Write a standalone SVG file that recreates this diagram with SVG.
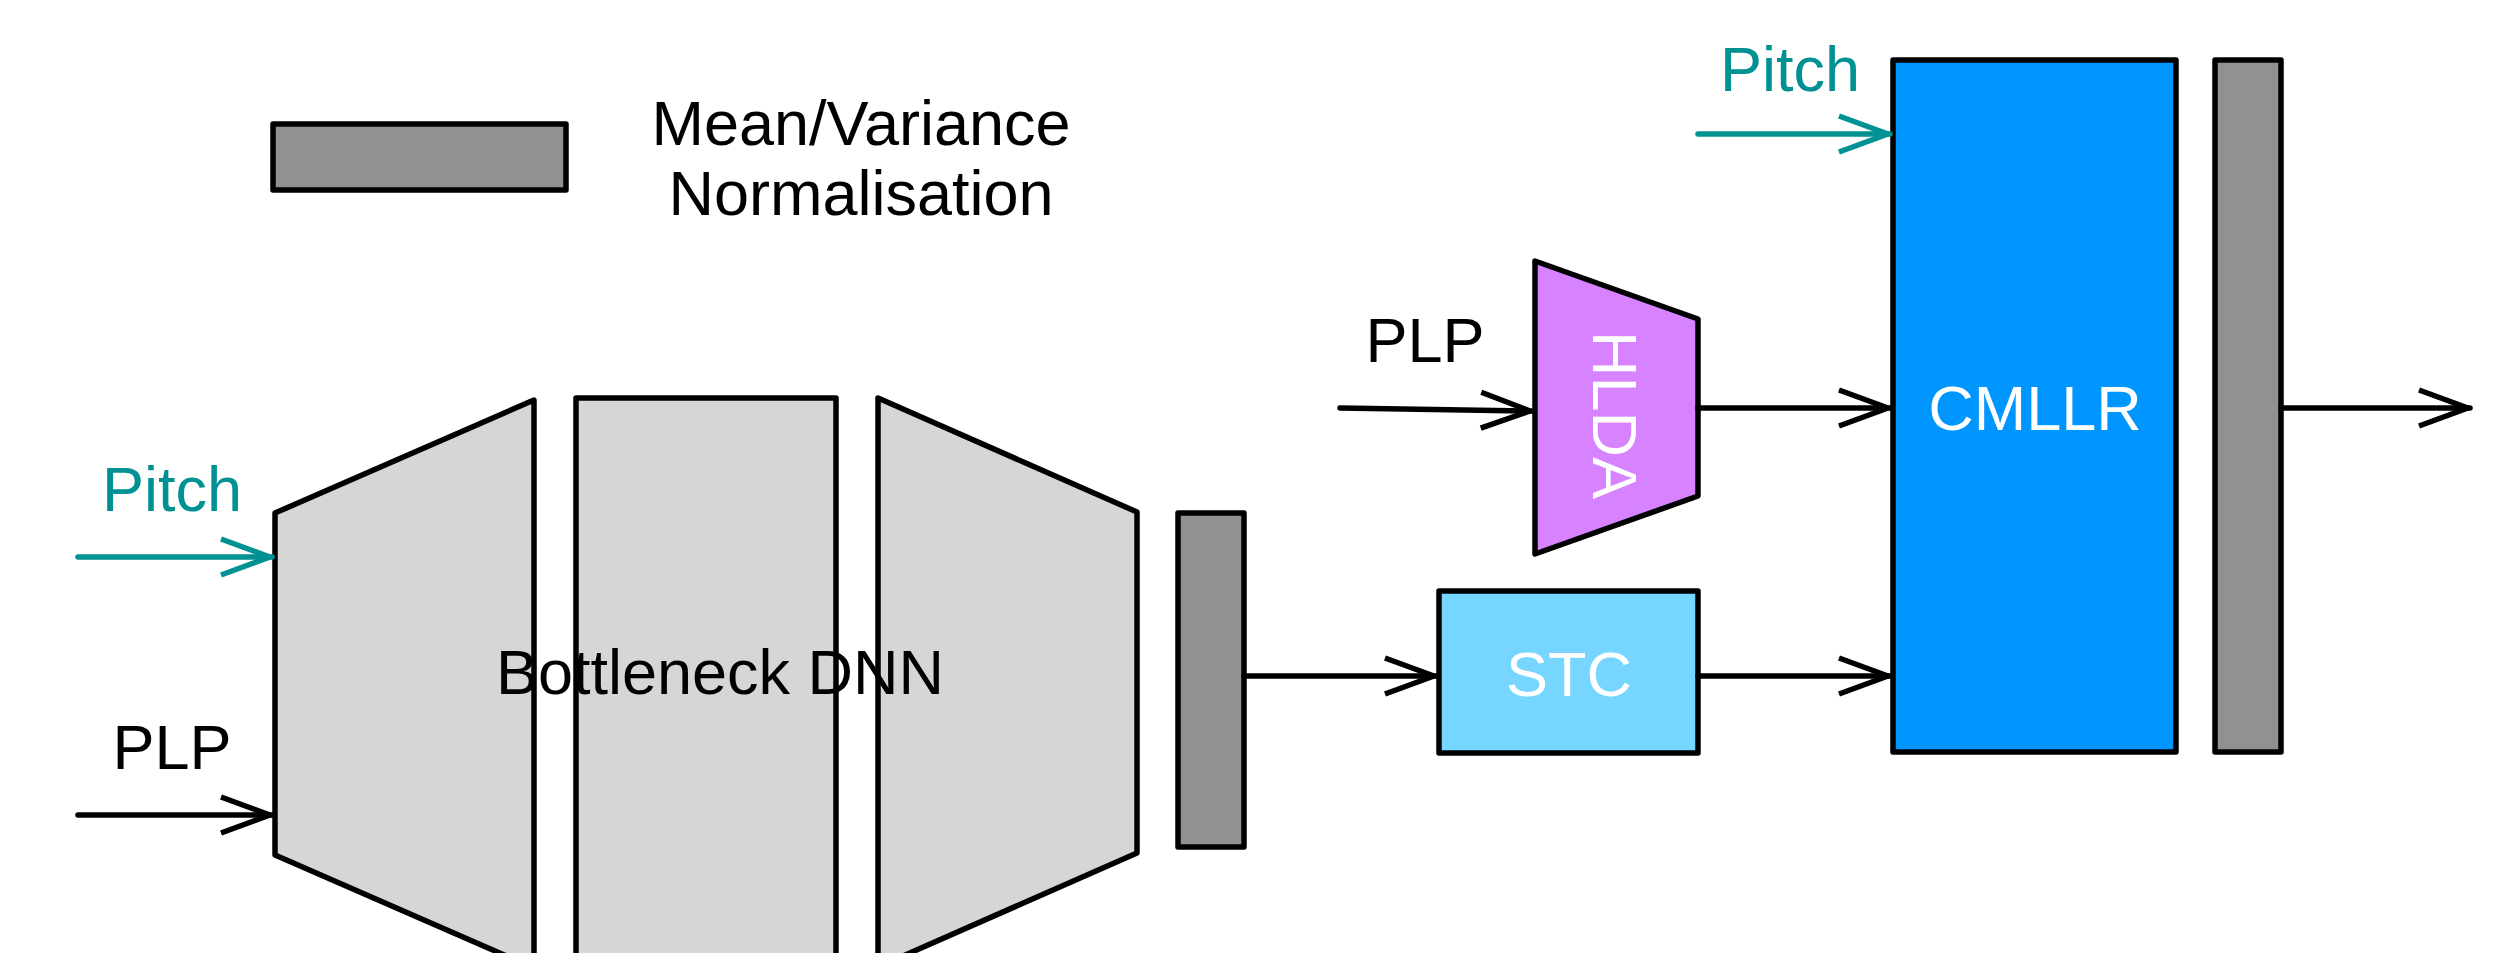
<svg xmlns="http://www.w3.org/2000/svg" width="2516" height="953" viewBox="0 0 2516 953">
  <defs>
    <style>
      .lbl { font-family: "Liberation Sans", Arial, Helvetica, sans-serif; font-size: 63px; }
      .blk { fill: #000000; }
      .teal { fill: #009193; }
      .wht { fill: #FFFFFF; }
      .shape { stroke: #000000; stroke-width: 5.5; stroke-linejoin: round; }
      .norm { fill: #919191; }
      .dnn { fill: #D6D6D6; }
      .hlda { fill: #D783FF; }
      .stc { fill: #76D6FF; }
      .cmllr { fill: #0096FF; }
      .con { fill: none; stroke-width: 5.5; stroke-linecap: round; }
      .conb { stroke: #000000; marker-end: url(#ahb); }
      .cont { stroke: #009193; marker-end: url(#aht); }
    </style>
    <marker id="ahb" markerUnits="userSpaceOnUse" viewBox="-60 -30 70 60" refX="0" refY="0" markerWidth="70" markerHeight="60" orient="auto" overflow="visible">
      <path d="M-51,-18 L-2,0 L-51,18" fill="none" stroke="#000000" stroke-width="5.5" stroke-linejoin="round"/>
    </marker>
    <marker id="aht" markerUnits="userSpaceOnUse" viewBox="-60 -30 70 60" refX="0" refY="0" markerWidth="70" markerHeight="60" orient="auto" overflow="visible">
      <path d="M-51,-18 L-2,0 L-51,18" fill="none" stroke="#009193" stroke-width="5.5" stroke-linejoin="round"/>
    </marker>
  </defs>
  <rect x="0" y="0" width="2516" height="953" fill="#FFFFFF"/>

  <g id="legend">
    <rect class="shape norm" x="273" y="124" width="293" height="66"/>
    <text class="lbl blk" x="861" y="145" text-anchor="middle">Mean/Variance</text>
    <text class="lbl blk" x="861" y="215" text-anchor="middle">Normalisation</text>
  </g>

  <g id="input-labels-left">
    <text class="lbl teal" x="172" y="511" text-anchor="middle">Pitch</text>
    <text class="lbl blk" x="172" y="769" text-anchor="middle">PLP</text>
  </g>

  <g id="bottleneck-dnn">
    <polygon class="shape dnn" points="275,513 534,400 534,968 275,855"/>
    <rect class="shape dnn" x="576" y="398" width="260" height="600"/>
    <polygon class="shape dnn" points="878,398 1137,512 1137,853 878,967"/>
    <text class="lbl blk" x="720" y="694" text-anchor="middle">Bottleneck DNN</text>
  </g>

  <g id="norm-dnn">
    <rect class="shape norm" x="1178" y="513" width="66" height="334"/>
  </g>

  <g id="hlda">
    <polygon class="shape hlda" points="1535,261 1698,319 1698,496 1535,554"/>
    <text class="lbl wht" transform="translate(1593,415) rotate(90)" x="0" y="0" text-anchor="middle">HLDA</text>
  </g>

  <g id="plp-right">
    <text class="lbl blk" x="1425" y="362" text-anchor="middle">PLP</text>
  </g>

  <g id="stc">
    <rect class="shape stc" x="1439" y="591" width="259" height="162"/>
    <text class="lbl wht" x="1569" y="696" text-anchor="middle">STC</text>
  </g>

  <g id="pitch-right">
    <text class="lbl teal" x="1790" y="91" text-anchor="middle">Pitch</text>
  </g>

  <g id="cmllr">
    <rect class="shape cmllr" x="1893" y="60" width="283" height="692"/>
    <text class="lbl wht" x="2035" y="430" text-anchor="middle">CMLLR</text>
  </g>

  <g id="norm-out">
    <rect class="shape norm" x="2215" y="60" width="66" height="692"/>
  </g>

  <g id="connectors">
    <line class="con cont" x1="78" y1="557" x2="272" y2="557"/>
    <line class="con conb" x1="78" y1="815" x2="272" y2="815"/>
    <line class="con conb" x1="1244" y1="676" x2="1436" y2="676"/>
    <line class="con conb" x1="1340" y1="408" x2="1532" y2="411"/>
    <line class="con conb" x1="1698" y1="408" x2="1890" y2="408"/>
    <line class="con conb" x1="1698" y1="676" x2="1890" y2="676"/>
    <line class="con cont" x1="1698" y1="134" x2="1890" y2="134"/>
    <line class="con conb" x1="2281" y1="408" x2="2470" y2="408"/>
  </g>
</svg>
